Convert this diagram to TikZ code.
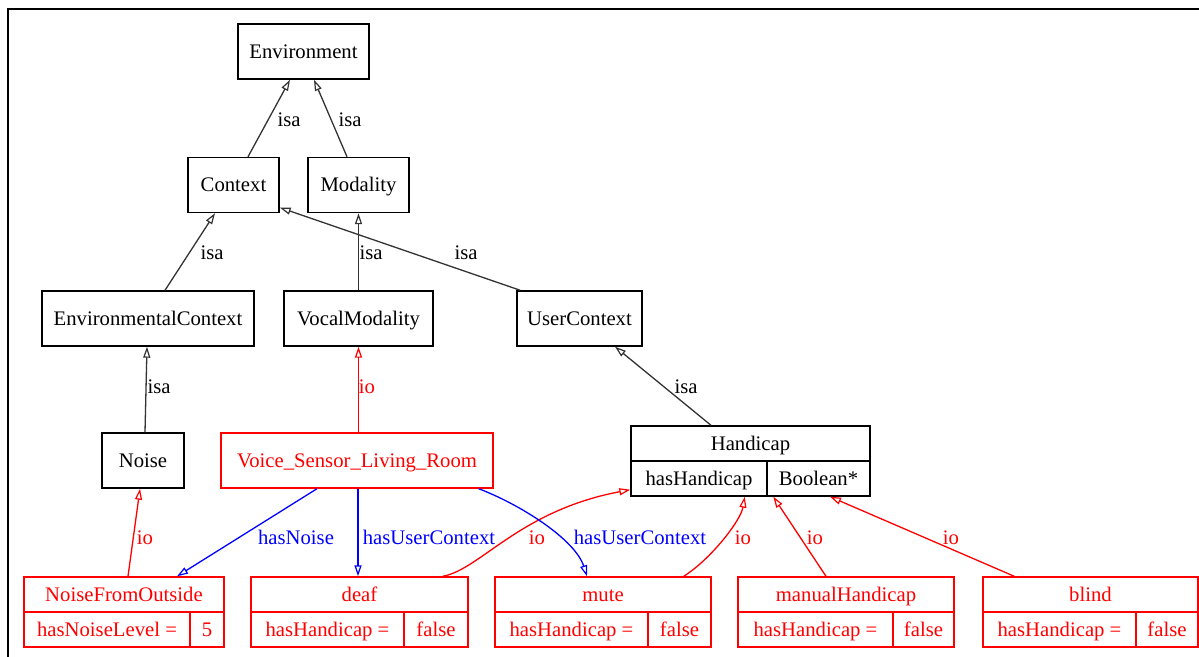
\documentclass[tikz,border=0pt]{standalone}
\usepackage{fontspec}
\setmainfont{Liberation Serif}
\usetikzlibrary{arrows.meta,calc}
\begin{document}
\begin{tikzpicture}[x=1pt,y=-1pt,
  every node/.style={font=\fontsize{20.7}{24}\selectfont},
  box/.style={draw, line width=1.4pt, inner sep=0pt, minimum height=55pt, text height=13.7pt, text depth=0pt},
  rbox/.style={box, draw=red, text=red},
  cell/.style={draw, line width=1.4pt, inner sep=0pt, minimum height=35pt, text height=13.7pt, text depth=0pt},
  rcell/.style={cell, draw=red, text=red},
  lbl/.style={inner sep=0pt, text height=14.1pt, text depth=0pt},
  rlbl/.style={lbl, text=red},
  blbl/.style={lbl, text=blue},
  tip/.style={-{Triangle[open,length=11pt,width=7pt,line width=1.2pt]}},
  isa/.style={draw=black!80, line width=1.3pt, tip},
  io/.style={draw=red, line width=1.3pt, tip},
  rel/.style={draw=blue, line width=1.3pt, tip},
]
\useasboundingbox (0,0) rectangle (1199,656);
\fill[white] (0,0) rectangle (1199,656);
\draw[line width=2.5pt] (8,660) -- (8,9) -- (1205,9);

% class nodes
\node[box, minimum width=131pt] (env) at (303.5,51.5) {Environment};
\node[box, minimum width=91pt] (ctx) at (233.5,185) {Context};
\node[box, minimum width=101pt] (mod) at (358.5,185) {Modality};
\node[box, minimum width=212pt] (envctx) at (148,318.5) {EnvironmentalContext};
\node[box, minimum width=149pt] (vocal) at (358.5,318.5) {VocalModality};
\node[box, minimum width=125pt] (user) at (579.5,318.5) {UserContext};
\node[box, minimum width=82pt] (noise) at (143,460.5) {Noise};
\node[rbox, minimum width=272pt] (voice) at (357,460.5) {Voice\_Sensor\_Living\_Room};

% Handicap record
\node[cell, minimum width=239pt] (hdc) at (750.5,443.5) {Handicap};
\node[cell, minimum width=136pt] (hc1) at (699,478.5) {hasHandicap};
\node[cell, minimum width=103pt] (hc2) at (818.5,478.5) {Boolean*};

% instance records
\node[rcell, minimum width=200pt] (nfo) at (124,594.5) {NoiseFromOutside};
\node[rcell, minimum width=166pt] (nfo1) at (107,629.5) {hasNoiseLevel =};
\node[rcell, minimum width=34pt] (nfo2) at (207,629.5) {5};

\node[rcell, minimum width=217pt] (deaf) at (359.5,594.5) {deaf};
\node[rcell, minimum width=153pt] (deaf1) at (327.5,629.5) {hasHandicap =};
\node[rcell, minimum width=64pt] (deaf2) at (436,629.5) {false};

\node[rcell, minimum width=216pt] (mute) at (603,594.5) {mute};
\node[rcell, minimum width=153pt] (mute1) at (571.5,629.5) {hasHandicap =};
\node[rcell, minimum width=63pt] (mute2) at (679.5,629.5) {false};

\node[rcell, minimum width=216pt] (man) at (846,594.5) {manualHandicap};
\node[rcell, minimum width=155pt] (man1) at (815.5,629.5) {hasHandicap =};
\node[rcell, minimum width=61pt] (man2) at (923.5,629.5) {false};

\node[rcell, minimum width=215pt] (blind) at (1090.5,594.5) {blind};
\node[rcell, minimum width=153pt] (blind1) at (1059.5,629.5) {hasHandicap =};
\node[rcell, minimum width=62pt] (blind2) at (1167,629.5) {false};

% isa edges
\draw[isa] ([xshift=14.5pt]ctx.north) -- ([xshift=-13.5pt]env.south);
\draw[isa] ([xshift=-11.5pt]mod.north) -- ([xshift=10.5pt]env.south);
\draw[isa] ([xshift=17pt]envctx.north) -- ([xshift=-18.5pt]ctx.south);
\draw[isa] (vocal.north) -- (mod.south);
\draw[isa] ([xshift=4pt]user.north west) -- (ctx.-26);
\draw[isa] ([xshift=2pt]noise.north) -- ([xshift=-1pt]envctx.south);
\draw[isa] ([xshift=-39.5pt]hdc.north) -- ([xshift=35.5pt]user.south);

% io edges
\draw[io] (vocal.south |- voice.north) -- (vocal.south);
\draw[io] ([xshift=4pt]nfo.north) -- ([xshift=-3pt]noise.south);
\draw[io] ([xshift=-26pt]deaf.north east) .. controls +(38,-7) and +(-111,21) .. ($(hc1.south west)+(0,-7)$);
\draw[io] ([xshift=-28pt]mute.north east) .. controls +(27,-17) and +(-4,24) .. ([xshift=-23pt]hc1.south east);
\draw[io] ([xshift=-20pt]man.north) -- ([xshift=7pt]hc2.south west);
\draw[io] ([xshift=32pt]blind.north west) -- ([xshift=11.5pt]hc2.south);

% relation edges
\draw[rel] ([xshift=-40pt]voice.south) -- ([xshift=53pt]nfo.north);
\draw[rel] ([xshift=1pt]voice.south) -- ([xshift=-1.5pt]deaf.north);
\draw[rel] ([xshift=-15pt]voice.south east) .. controls +(42,16) and +(-12,-37) .. ([xshift=-16pt]mute.north);

% labels
\node[lbl] (l1) at (289,119) {isa};
\node[lbl] (l2) at (350,119) {isa};
\node[lbl] (l3) at (212,252) {isa};
\node[lbl] (l4) at (371,252) {isa};
\node[lbl] (l5) at (466,252) {isa};
\node[lbl] (l6) at (159,386) {isa};
\node[lbl] (l7) at (686,386) {isa};
\node[rlbl] (l8) at (367,386) {io};
\node[rlbl] (l9) at (145,537) {io};
\node[blbl] (l10) at (296,537) {hasNoise};
\node[blbl] (l11) at (429,537) {hasUserContext};
\node[rlbl] (l12) at (537,537) {io};
\node[blbl] (l13) at (640,537) {hasUserContext};
\node[rlbl] (l14) at (743,537) {io};
\node[rlbl] (l15) at (815,537) {io};
\node[rlbl] (l16) at (951,537) {io};
\end{tikzpicture}
\end{document}
